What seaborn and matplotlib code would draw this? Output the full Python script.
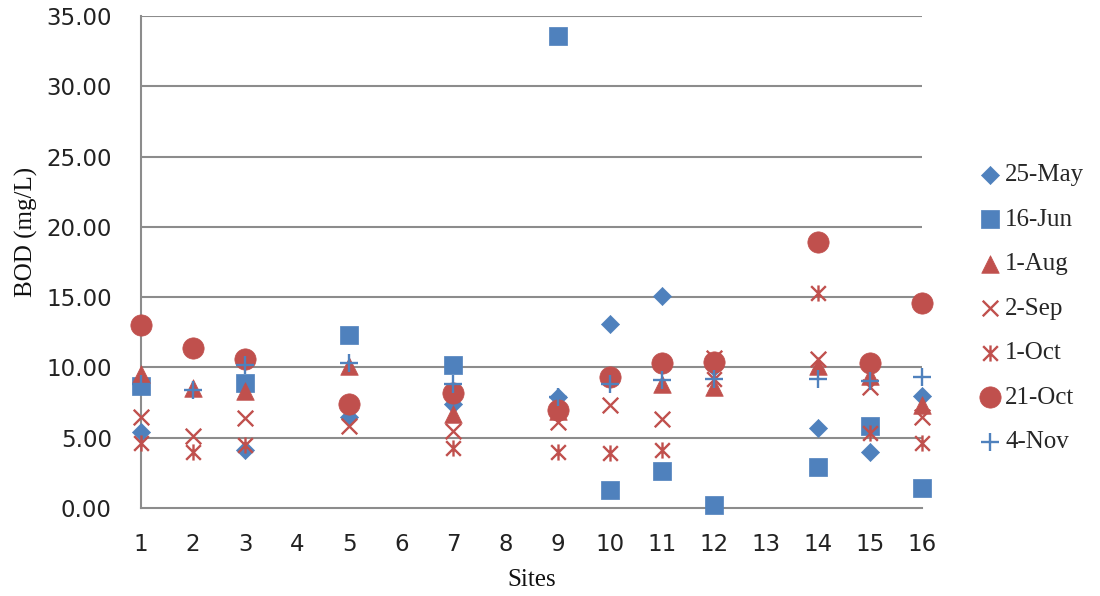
import numpy as np
import pandas as pd
import matplotlib
matplotlib.use("Agg")
import matplotlib.pyplot as plt
from matplotlib.path import Path
import seaborn as sns

nan = np.nan

# Sampling sites and BOD readings (mg/L) for each sampling date
sites = [1, 2, 3, 5, 7, 9, 10, 11, 12, 14, 15, 16]
may25 = [5.4, nan, 4.1, 6.5, 7.4, 7.9, 13.1, 15.1, 10.0, 5.7, 4.0, 8.0]
jun16 = [8.7, nan, 8.9, 12.3, 10.2, 33.6, 1.3, 2.6, 0.2, 2.9, 5.8, 1.4]
aug1 = [9.5, 8.5, 8.3, 10.1, 6.7, 6.9, nan, 8.8, 8.6, 10.1, 9.4, 7.3]
sep2 = [6.5, 5.1, 6.4, 5.8, 5.5, 6.1, 7.3, 6.3, 10.7, 10.6, 8.6, 6.5]
oct1 = [4.6, 4.0, 4.5, nan, 4.3, 4.0, 3.9, 4.1, 9.2, 15.3, 5.3, 4.6]
oct21 = [13.0, 11.4, 10.6, 7.4, 8.2, 7.0, 9.3, 10.3, 10.4, 18.9, 10.3, 14.6]
nov4 = [8.8, 8.4, 10.2, 10.3, 8.8, 7.9, 8.8, 9.1, 9.2, 9.2, 9.0, 9.3]

series_labels = ["25-May", "16-Jun", "1-Aug", "2-Sep", "1-Oct", "21-Oct", "4-Nov"]
series_values = [may25, jun16, aug1, sep2, oct1, oct21, nov4]

x_ticks = list(range(1, 17))
y_ticks = [0, 5, 10, 15, 20, 25, 30, 35]

BLUE = "#4F81BD"
RED = "#C0504D"
GRID = "#8C8C8C"

# X with a vertical bar through it
star_path = Path(
    [(-0.5, -0.5), (0.5, 0.5), (-0.5, 0.5), (0.5, -0.5), (0, -0.55), (0, 0.55)],
    [Path.MOVETO, Path.LINETO, Path.MOVETO, Path.LINETO, Path.MOVETO, Path.LINETO],
)

styles = [
    dict(marker="D", s=85, color=BLUE, filled=True),
    dict(marker="s", s=180, color=BLUE, filled=True),
    dict(marker="^", s=160, color=RED, filled=True),
    dict(marker="x", s=125, color=RED, filled=False, lw=1.7),
    dict(marker=star_path, s=135, color=RED, filled=False, lw=1.7),
    dict(marker="o", s=235, color=RED, filled=True),
    dict(marker="+", s=155, color=BLUE, filled=False, lw=1.7),
]

sns.set_theme(style="white")
plt.rcParams["font.family"] = ["DejaVu Sans"]

fig = plt.figure(figsize=(11.0, 5.96), dpi=100)
ax = fig.add_axes([0.1282, 0.1477, 0.7100, 0.8255])

for label, vals, st in zip(series_labels, series_values, styles):
    df = pd.DataFrame({"site": sites, "bod": vals}).dropna()
    kws = dict(
        data=df, x="site", y="bod", ax=ax, marker=st["marker"], s=st["s"],
        color=st["color"], label=label, clip_on=False, zorder=3,
    )
    if st["filled"]:
        kws.update(edgecolor=st["color"], linewidth=0.5)
    else:
        kws.update(edgecolor=st["color"], linewidth=st["lw"])
    sns.scatterplot(**kws)

ax.set_xlim(1, 16)
ax.set_ylim(0, 35)
ax.set_xticks(x_ticks)
ax.set_xticklabels([str(t) for t in x_ticks])
ax.set_yticks(y_ticks)
ax.set_yticklabels([f"{t:.2f}" for t in y_ticks])

ax.grid(False)
for yv in y_ticks[1:]:
    ax.axhline(yv, color=GRID, lw=1.5, zorder=1)

for side in ["top", "right"]:
    ax.spines[side].set_visible(False)
for side in ["left", "bottom"]:
    ax.spines[side].set_color(GRID)
    ax.spines[side].set_linewidth(1.5)

ax.tick_params(axis="both", length=0, labelsize=16.5, colors="#222222")
ax.tick_params(axis="y", pad=21)
ax.tick_params(axis="x", pad=18)

serif = ["Liberation Serif", "DejaVu Serif"]
ax.set_xlabel("Sites", family=serif, fontsize=18, color="#111111")
ax.set_ylabel("BOD (mg/L)", family=serif, fontsize=18, color="#111111")
ax.xaxis.set_label_coords(0.5, -0.124)
ax.yaxis.set_label_coords(-0.132, 0.561)

leg = ax.legend(
    loc="center left", bbox_to_anchor=(0.890, 0.4824), bbox_transform=fig.transFigure,
    frameon=False, prop={"family": serif, "size": 18}, borderpad=0, borderaxespad=0,
    handlelength=0.9, handletextpad=0.15, labelspacing=0.88,
)

fig.savefig("out.png", dpi=100)
